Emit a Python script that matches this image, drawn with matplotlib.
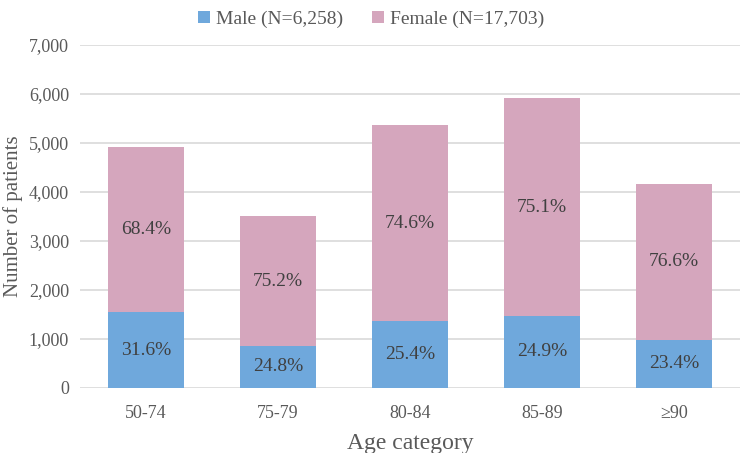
import numpy as np
import matplotlib.pyplot as plt

# data
categories = ['50-74', '75-79', '80-84', '85-89', '≥90']
male = [1545, 860, 1365, 1470, 980]
female = [3365, 2645, 4000, 4445, 3190]
male_pct = ['31.6%', '24.8%', '25.4%', '24.9%', '23.4%']
female_pct = ['68.4%', '75.2%', '74.6%', '75.1%', '76.6%']

plt.rcParams['font.family'] = ['Liberation Serif', 'DejaVu Serif']

fig = plt.figure(figsize=(7.42, 4.53), dpi=100)
ax = fig.add_axes([0.108, 0.1435, 0.889, 0.757])

x = np.arange(len(categories))
blue = '#6FA8DC'
pink = '#D5A6BD'
b1 = ax.bar(x, male, width=0.58, color=blue, label='Male (N=6,258)', zorder=3)
b2 = ax.bar(x, female, width=0.58, bottom=male, color=pink, label='Female (N=17,703)', zorder=3)

for i in range(len(categories)):
    ax.text(x[i], male[i] / 2, male_pct[i], ha='center', va='center',
            fontsize=14, color='#404040', zorder=4)
    ax.text(x[i], male[i] + female[i] / 2, female_pct[i], ha='center', va='center',
            fontsize=14, color='#404040', zorder=4)

ax.set_xlim(-0.5, len(categories) - 0.5)
ax.set_ylim(0, 7000)
ax.set_yticks(range(0, 7001, 1000))
ax.set_yticklabels([f'{v:,}' for v in range(0, 7001, 1000)])
ax.set_xticks(x)
ax.set_xticklabels(categories)
ax.tick_params(axis='both', length=0, labelsize=13, labelcolor='#595959')
ax.tick_params(axis='x', pad=12)
ax.tick_params(axis='y', pad=8)
ax.yaxis.grid(True, color='#D9D9D9', linewidth=1.2, zorder=0)
for s in ax.spines.values():
    s.set_visible(False)

ax.set_xlabel('Age category', fontsize=17, color='#595959', labelpad=8)
ax.set_ylabel('Number of patients', fontsize=15, color='#595959', labelpad=4)

fig.legend(handles=[b1, b2], loc='upper center', bbox_to_anchor=(0.5, 1.015), ncol=2,
           frameon=False, fontsize=14, handlelength=0.6, handleheight=0.6,
           columnspacing=1.5, handletextpad=0.3, labelcolor='#595959')

fig.savefig('out.png', dpi=100)
